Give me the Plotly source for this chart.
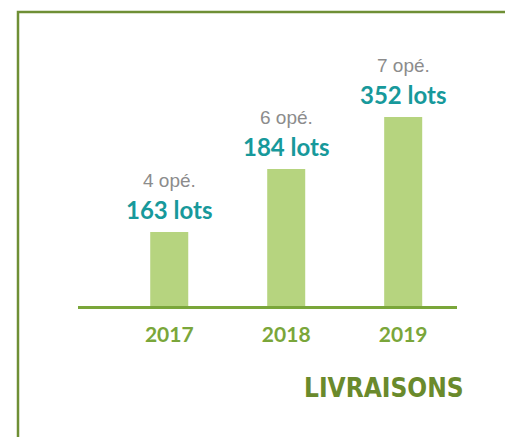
import plotly.graph_objects as go

years = ["2017", "2018", "2019"]
bar_heights = [74, 137, 189]
lots = [163, 184, 352]
operations = [4, 6, 7]

W, H = 513, 437
# page body has an 8px margin; coordinates below compensate for it
ml, mr, mt, mb = 70, 64, 12, 139
ph = H - mt - mb
pw = W - ml - mr

fig = go.Figure()
fig.add_trace(go.Bar(
    x=years, y=bar_heights, marker=dict(color="#b6d47f", line=dict(width=0)),
    width=0.325, hoverinfo="skip"))

for i, (h, lt, op) in enumerate(zip(bar_heights, lots, operations)):
    fig.add_annotation(x=i, y=h, text=f"<b>{lt} lots</b>", showarrow=False,
                       yanchor="middle", xanchor="center", yshift=23,
                       font=dict(family="Lato", size=24, color="#17999b", weight=900))
    fig.add_annotation(x=i, y=h, text=f"{op} opé.", showarrow=False,
                       yanchor="middle", xanchor="center", yshift=52,
                       font=dict(family="Liberation Sans", size=19, color="#8c8c8c"))

fig.add_shape(type="rect", xref="paper", yref="paper",
              x0=(10 - ml) / pw, x1=(500 - ml) / pw,
              y0=(H - mb - 460) / ph, y1=(H - mb - 4) / ph,
              line=dict(color="#6f8f35", width=2.5), fillcolor="rgba(0,0,0,0)")

fig.add_annotation(xref="paper", yref="paper", x=(376 - ml) / pw, y=(H - mb - 380) / ph,
                   xanchor="center", yanchor="middle",
                   text="<b>LIVRAISONS</b>", showarrow=False,
                   font=dict(family="DejaVu Sans Condensed", size=26, color="#6a8a2c"))

fig.update_layout(
    width=W, height=H, margin=dict(l=ml, r=mr, t=mt, b=mb),
    plot_bgcolor="white", paper_bgcolor="white", showlegend=False,
    xaxis=dict(type="category", range=[-0.78, 2.46], showline=True, linecolor="#7aa63a",
               linewidth=3, showgrid=False, zeroline=False, ticks="outside", ticklen=8,
               tickcolor="rgba(0,0,0,0)",
               tickfont=dict(family="Lato", size=21, color="#7aa63a"),
               tickprefix="<b>", ticksuffix="</b>",
               fixedrange=True),
    yaxis=dict(range=[0, ph], visible=False, fixedrange=True),
)

fig.write_html("out.html")
